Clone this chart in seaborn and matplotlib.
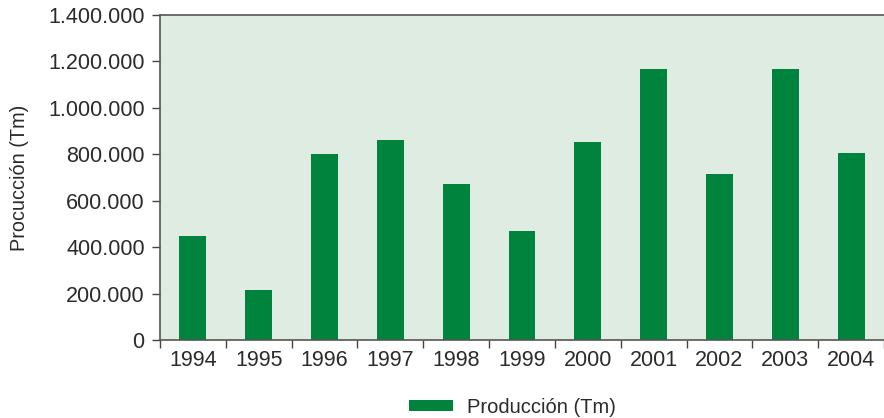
import numpy as np
import pandas as pd
import matplotlib
matplotlib.use("Agg")
import matplotlib.pyplot as plt
from matplotlib.ticker import FuncFormatter
import seaborn as sns

# values
years = ["1994", "1995", "1996", "1997", "1998", "1999",
         "2000", "2001", "2002", "2003", "2004"]
produccion = [448000, 215000, 800000, 860000, 670000, 468000,
              855000, 1168000, 716000, 1168000, 807000]
series_label = "Producción (Tm)"
y_label = "Procucción (Tm)"

df = pd.DataFrame({"Año": years, "Produccion": produccion})

sns.set_theme(style="white")
plt.rcParams["font.family"] = ["Liberation Sans", "DejaVu Sans"]
text_color = "#2b2b2b"

fig = plt.figure(figsize=(8.84, 4.18), dpi=100)
ax = fig.add_axes([160 / 884, 78 / 418, 1 - 160 / 884, 325 / 418])
ax.set_facecolor("#dfece2")

sns.barplot(data=df, x="Año", y="Produccion", color="#00843d",
            saturation=1, width=0.41, linewidth=0, label=series_label, ax=ax)
if ax.get_legend() is not None:
    ax.get_legend().remove()

ax.set_ylim(0, 1400000)
ax.set_yticks(np.arange(0, 1400001, 200000))
ax.yaxis.set_major_formatter(
    FuncFormatter(lambda v, _: f"{int(v):,}".replace(",", ".")))
ax.set_xlim(-0.5, len(years) - 0.5)
ax.set_xticks(np.arange(-0.5, len(years), 1), minor=True)

ax.tick_params(axis="x", which="major", length=0, pad=7,
               labelsize=15.5, labelcolor=text_color)
ax.tick_params(axis="x", which="minor", length=6, width=1, color="#444444",
               direction="out", bottom=True)
ax.tick_params(axis="y", length=6, width=1, color="#444444", pad=5,
               left=True, labelsize=15.5, labelcolor=text_color)

ax.set_xlabel("")
ax.set_ylabel(y_label, fontsize=14.3, color=text_color, labelpad=14)

for side in ["left", "bottom", "top"]:
    ax.spines[side].set_color("#555555")
    ax.spines[side].set_linewidth(1.2)
ax.spines["right"].set_visible(False)

handles, labels = ax.get_legend_handles_labels()
fig.legend(handles, labels, loc="lower center", bbox_to_anchor=(0.58, -0.04),
           frameon=False, fontsize=14.5, handlelength=2.2, handleheight=0.45,
           handletextpad=0.7, labelcolor=text_color)

fig.savefig("out.png", dpi=100)
